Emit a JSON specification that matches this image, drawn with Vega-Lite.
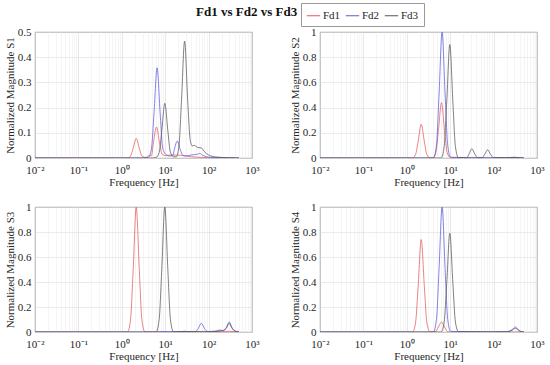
{
"$schema": "https://vega.github.io/schema/vega-lite/v6.json",
"padding": {"left": 3, "right": 2, "top": 2, "bottom": 2},
"background": "white",
"title": {"text": "Fd1 vs Fd2 vs Fd3", "font": "Liberation Serif", "fontSize": 13, "fontWeight": "bold", "color": "#111", "anchor": "start", "dx": 161, "dy": 22, "offset": 6, "frame": "group"},
"data": {"values": [
{"p":"S1","s":"Fd1","f":0.01,"v":0},{"p":"S1","s":"Fd1","f":1.36,"v":0},{"p":"S1","s":"Fd1","f":1.59,"v":0.008},{"p":"S1","s":"Fd1","f":1.83,"v":0.039},{"p":"S1","s":"Fd1","f":2.15,"v":0.078},{"p":"S1","s":"Fd1","f":2.53,"v":0.039},{"p":"S1","s":"Fd1","f":2.9,"v":0.008},{"p":"S1","s":"Fd1","f":3.6,"v":0.002},{"p":"S1","s":"Fd1","f":4.3,"v":0.01},{"p":"S1","s":"Fd1","f":4.8,"v":0.008},{"p":"S1","s":"Fd1","f":5.36,"v":0.061},{"p":"S1","s":"Fd1","f":6.3,"v":0.123},{"p":"S1","s":"Fd1","f":7.4,"v":0.061},{"p":"S1","s":"Fd1","f":8.5,"v":0.015},{"p":"S1","s":"Fd1","f":10,"v":0.01},{"p":"S1","s":"Fd1","f":15,"v":0.012},{"p":"S1","s":"Fd1","f":25,"v":0.01},{"p":"S1","s":"Fd1","f":40,"v":0.005},{"p":"S1","s":"Fd1","f":60,"v":0.003},{"p":"S1","s":"Fd1","f":100,"v":0.001},{"p":"S1","s":"Fd1","f":500,"v":0},
{"p":"S1","s":"Fd2","f":0.01,"v":0},{"p":"S1","s":"Fd2","f":3,"v":0},{"p":"S1","s":"Fd2","f":4.1,"v":0.003},{"p":"S1","s":"Fd2","f":4.82,"v":0.036},{"p":"S1","s":"Fd2","f":5.53,"v":0.179},{"p":"S1","s":"Fd2","f":6.5,"v":0.358},{"p":"S1","s":"Fd2","f":7.64,"v":0.179},{"p":"S1","s":"Fd2","f":8.77,"v":0.04},{"p":"S1","s":"Fd2","f":10.3,"v":0.015},{"p":"S1","s":"Fd2","f":12.5,"v":0.008},{"p":"S1","s":"Fd2","f":15,"v":0.01},{"p":"S1","s":"Fd2","f":16.2,"v":0.033},{"p":"S1","s":"Fd2","f":19,"v":0.067},{"p":"S1","s":"Fd2","f":22.3,"v":0.033},{"p":"S1","s":"Fd2","f":25.6,"v":0.01},{"p":"S1","s":"Fd2","f":30,"v":0.008},{"p":"S1","s":"Fd2","f":40,"v":0.012},{"p":"S1","s":"Fd2","f":55,"v":0.015},{"p":"S1","s":"Fd2","f":62,"v":0.018},{"p":"S1","s":"Fd2","f":75,"v":0.01},{"p":"S1","s":"Fd2","f":100,"v":0.003},{"p":"S1","s":"Fd2","f":200,"v":0.001},{"p":"S1","s":"Fd2","f":500,"v":0},
{"p":"S1","s":"Fd3","f":0.01,"v":0},{"p":"S1","s":"Fd3","f":5,"v":0},{"p":"S1","s":"Fd3","f":6.18,"v":0.002},{"p":"S1","s":"Fd3","f":7.26,"v":0.022},{"p":"S1","s":"Fd3","f":8.34,"v":0.108},{"p":"S1","s":"Fd3","f":9.8,"v":0.217},{"p":"S1","s":"Fd3","f":11.5,"v":0.108},{"p":"S1","s":"Fd3","f":13.2,"v":0.022},{"p":"S1","s":"Fd3","f":15.5,"v":0.005},{"p":"S1","s":"Fd3","f":18,"v":0.005},{"p":"S1","s":"Fd3","f":20.7,"v":0.046},{"p":"S1","s":"Fd3","f":23.8,"v":0.232},{"p":"S1","s":"Fd3","f":28,"v":0.464},{"p":"S1","s":"Fd3","f":32.9,"v":0.232},{"p":"S1","s":"Fd3","f":37.8,"v":0.07},{"p":"S1","s":"Fd3","f":42,"v":0.048},{"p":"S1","s":"Fd3","f":48,"v":0.05},{"p":"S1","s":"Fd3","f":55,"v":0.042},{"p":"S1","s":"Fd3","f":68,"v":0.04},{"p":"S1","s":"Fd3","f":80,"v":0.025},{"p":"S1","s":"Fd3","f":100,"v":0.012},{"p":"S1","s":"Fd3","f":150,"v":0.004},{"p":"S1","s":"Fd3","f":300,"v":0.001},{"p":"S1","s":"Fd3","f":500,"v":0},
{"p":"S2","s":"Fd1","f":0.01,"v":0},{"p":"S2","s":"Fd1","f":1.36,"v":0},{"p":"S2","s":"Fd1","f":1.59,"v":0.027},{"p":"S2","s":"Fd1","f":1.83,"v":0.134},{"p":"S2","s":"Fd1","f":2.15,"v":0.267},{"p":"S2","s":"Fd1","f":2.53,"v":0.134},{"p":"S2","s":"Fd1","f":2.9,"v":0.027},{"p":"S2","s":"Fd1","f":3.41,"v":0.002},{"p":"S2","s":"Fd1","f":3.98,"v":0.002},{"p":"S2","s":"Fd1","f":4.67,"v":0.044},{"p":"S2","s":"Fd1","f":5.36,"v":0.22},{"p":"S2","s":"Fd1","f":6.3,"v":0.44},{"p":"S2","s":"Fd1","f":7.4,"v":0.22},{"p":"S2","s":"Fd1","f":8.5,"v":0.044},{"p":"S2","s":"Fd1","f":10,"v":0.005},{"p":"S2","s":"Fd1","f":20,"v":0.003},{"p":"S2","s":"Fd1","f":100,"v":0.001},{"p":"S2","s":"Fd1","f":500,"v":0},
{"p":"S2","s":"Fd2","f":0.01,"v":0},{"p":"S2","s":"Fd2","f":4.1,"v":0},{"p":"S2","s":"Fd2","f":4.82,"v":0.1},{"p":"S2","s":"Fd2","f":5.53,"v":0.5},{"p":"S2","s":"Fd2","f":6.5,"v":1.0},{"p":"S2","s":"Fd2","f":7.64,"v":0.5},{"p":"S2","s":"Fd2","f":8.77,"v":0.1},{"p":"S2","s":"Fd2","f":10.3,"v":0.005},{"p":"S2","s":"Fd2","f":30,"v":0.003},{"p":"S2","s":"Fd2","f":100,"v":0.002},{"p":"S2","s":"Fd2","f":300,"v":0.005},{"p":"S2","s":"Fd2","f":500,"v":0},
{"p":"S2","s":"Fd3","f":0.01,"v":0},{"p":"S2","s":"Fd3","f":6.18,"v":0},{"p":"S2","s":"Fd3","f":7.26,"v":0.09},{"p":"S2","s":"Fd3","f":8.34,"v":0.45},{"p":"S2","s":"Fd3","f":9.8,"v":0.9},{"p":"S2","s":"Fd3","f":11.5,"v":0.45},{"p":"S2","s":"Fd3","f":13.2,"v":0.09},{"p":"S2","s":"Fd3","f":15.5,"v":0.003},{"p":"S2","s":"Fd3","f":24,"v":0.002},{"p":"S2","s":"Fd3","f":27,"v":0.03},{"p":"S2","s":"Fd3","f":31.6,"v":0.074},{"p":"S2","s":"Fd3","f":37,"v":0.03},{"p":"S2","s":"Fd3","f":43,"v":0.003},{"p":"S2","s":"Fd3","f":55,"v":0.003},{"p":"S2","s":"Fd3","f":62,"v":0.027},{"p":"S2","s":"Fd3","f":73,"v":0.065},{"p":"S2","s":"Fd3","f":86,"v":0.026},{"p":"S2","s":"Fd3","f":100,"v":0.003},{"p":"S2","s":"Fd3","f":200,"v":0.002},{"p":"S2","s":"Fd3","f":300,"v":0.005},{"p":"S2","s":"Fd3","f":500,"v":0},
{"p":"S3","s":"Fd1","f":0.01,"v":0},{"p":"S3","s":"Fd1","f":1.36,"v":0},{"p":"S3","s":"Fd1","f":1.59,"v":0.1},{"p":"S3","s":"Fd1","f":1.83,"v":0.5},{"p":"S3","s":"Fd1","f":2.15,"v":1.0},{"p":"S3","s":"Fd1","f":2.53,"v":0.5},{"p":"S3","s":"Fd1","f":2.9,"v":0.1},{"p":"S3","s":"Fd1","f":3.41,"v":0.002},{"p":"S3","s":"Fd1","f":10,"v":0.001},{"p":"S3","s":"Fd1","f":300,"v":0.005},{"p":"S3","s":"Fd1","f":500,"v":0},
{"p":"S3","s":"Fd2","f":0.01,"v":0},{"p":"S3","s":"Fd2","f":6,"v":0},{"p":"S3","s":"Fd2","f":9,"v":0.004},{"p":"S3","s":"Fd2","f":12,"v":0.003},{"p":"S3","s":"Fd2","f":20,"v":0.002},{"p":"S3","s":"Fd2","f":28,"v":0.006},{"p":"S3","s":"Fd2","f":35,"v":0.002},{"p":"S3","s":"Fd2","f":50,"v":0.003},{"p":"S3","s":"Fd2","f":58,"v":0.03},{"p":"S3","s":"Fd2","f":68,"v":0.07},{"p":"S3","s":"Fd2","f":80,"v":0.03},{"p":"S3","s":"Fd2","f":95,"v":0.004},{"p":"S3","s":"Fd2","f":150,"v":0.008},{"p":"S3","s":"Fd2","f":180,"v":0.016},{"p":"S3","s":"Fd2","f":220,"v":0.01},{"p":"S3","s":"Fd2","f":255,"v":0.035},{"p":"S3","s":"Fd2","f":300,"v":0.08},{"p":"S3","s":"Fd2","f":340,"v":0.04},{"p":"S3","s":"Fd2","f":400,"v":0.01},{"p":"S3","s":"Fd2","f":500,"v":0},
{"p":"S3","s":"Fd3","f":0.01,"v":0},{"p":"S3","s":"Fd3","f":6.18,"v":0},{"p":"S3","s":"Fd3","f":7.26,"v":0.1},{"p":"S3","s":"Fd3","f":8.34,"v":0.5},{"p":"S3","s":"Fd3","f":9.8,"v":1.0},{"p":"S3","s":"Fd3","f":11.5,"v":0.5},{"p":"S3","s":"Fd3","f":13.2,"v":0.1},{"p":"S3","s":"Fd3","f":15.5,"v":0.003},{"p":"S3","s":"Fd3","f":28,"v":0.004},{"p":"S3","s":"Fd3","f":100,"v":0.002},{"p":"S3","s":"Fd3","f":200,"v":0.01},{"p":"S3","s":"Fd3","f":255,"v":0.03},{"p":"S3","s":"Fd3","f":300,"v":0.07},{"p":"S3","s":"Fd3","f":340,"v":0.035},{"p":"S3","s":"Fd3","f":400,"v":0.008},{"p":"S3","s":"Fd3","f":500,"v":0},
{"p":"S4","s":"Fd1","f":0.01,"v":0},{"p":"S4","s":"Fd1","f":1.36,"v":0},{"p":"S4","s":"Fd1","f":1.59,"v":0.074},{"p":"S4","s":"Fd1","f":1.83,"v":0.37},{"p":"S4","s":"Fd1","f":2.15,"v":0.74},{"p":"S4","s":"Fd1","f":2.53,"v":0.37},{"p":"S4","s":"Fd1","f":2.9,"v":0.074},{"p":"S4","s":"Fd1","f":3.41,"v":0.002},{"p":"S4","s":"Fd1","f":4.5,"v":0.003},{"p":"S4","s":"Fd1","f":5.36,"v":0.04},{"p":"S4","s":"Fd1","f":6.3,"v":0.08},{"p":"S4","s":"Fd1","f":7.4,"v":0.04},{"p":"S4","s":"Fd1","f":8.5,"v":0.005},{"p":"S4","s":"Fd1","f":10,"v":0.001},{"p":"S4","s":"Fd1","f":500,"v":0},
{"p":"S4","s":"Fd2","f":0.01,"v":0},{"p":"S4","s":"Fd2","f":4.1,"v":0},{"p":"S4","s":"Fd2","f":4.82,"v":0.1},{"p":"S4","s":"Fd2","f":5.53,"v":0.5},{"p":"S4","s":"Fd2","f":6.5,"v":1.0},{"p":"S4","s":"Fd2","f":7.64,"v":0.5},{"p":"S4","s":"Fd2","f":8.77,"v":0.1},{"p":"S4","s":"Fd2","f":10.3,"v":0.005},{"p":"S4","s":"Fd2","f":100,"v":0.001},{"p":"S4","s":"Fd2","f":200,"v":0.003},{"p":"S4","s":"Fd2","f":270,"v":0.02},{"p":"S4","s":"Fd2","f":316,"v":0.04},{"p":"S4","s":"Fd2","f":370,"v":0.02},{"p":"S4","s":"Fd2","f":430,"v":0.003},{"p":"S4","s":"Fd2","f":500,"v":0},
{"p":"S4","s":"Fd3","f":0.01,"v":0},{"p":"S4","s":"Fd3","f":6.18,"v":0},{"p":"S4","s":"Fd3","f":7.26,"v":0.079},{"p":"S4","s":"Fd3","f":8.34,"v":0.395},{"p":"S4","s":"Fd3","f":9.8,"v":0.79},{"p":"S4","s":"Fd3","f":11.5,"v":0.395},{"p":"S4","s":"Fd3","f":13.2,"v":0.079},{"p":"S4","s":"Fd3","f":15.5,"v":0.003},{"p":"S4","s":"Fd3","f":100,"v":0.001},{"p":"S4","s":"Fd3","f":200,"v":0.002},{"p":"S4","s":"Fd3","f":270,"v":0.015},{"p":"S4","s":"Fd3","f":316,"v":0.03},{"p":"S4","s":"Fd3","f":370,"v":0.015},{"p":"S4","s":"Fd3","f":430,"v":0.002},{"p":"S4","s":"Fd3","f":500,"v":0}
]},
"columns": 2,
"spacing": {"row": 49, "column": 68},
"bounds": "flush",
"resolve": {"scale": {"x": "independent", "y": "independent", "color": "shared"}},
"concat": [
{"width": 217, "height": 126, "transform": [{"filter": "datum.p == 'S1'"}],
 "mark": {"type": "line", "interpolate": "monotone", "strokeWidth": 0.75, "clip": true},
 "encoding": {
  "x": {"field": "f", "type": "quantitative", "scale": {"type": "log", "domain": [0.01, 1000]}, "axis": {"title": "Frequency [Hz]", "labelPadding": 6, "titlePadding": 1, "values": [0.01,0.02,0.03,0.04,0.05,0.06,0.07,0.08,0.09,0.1,0.2,0.3,0.4,0.5,0.6,0.7,0.8,0.9,1,2,3,4,5,6,7,8,9,10,20,30,40,50,60,70,80,90,100,200,300,400,500,600,700,800,900,1000], "labelExpr": "abs(log(datum.value)/LN10 - round(log(datum.value)/LN10)) < 0.001 ? '10' + ['⁻²','⁻¹','⁰','¹','²','³'][round(log(datum.value)/LN10)+2] : ''", "gridColor": {"condition": {"test": "abs(log(datum.value)/LN10 - round(log(datum.value)/LN10)) < 0.001", "value": "#d9d9d9"}, "value": "#eeeeee"}}},
  "y": {"field": "v", "type": "quantitative", "scale": {"domain": [0, 0.5]}, "axis": {"title": "Normalized Magnitude S1", "values": [0,0.1,0.2,0.3,0.4,0.5], "format": "~g"}},
  "color": {"field": "s", "type": "nominal", "scale": {"domain": ["Fd1","Fd2","Fd3"], "range": ["#e35a5a","#5a5ae3","#555555"]}}
 }},
{"width": 217, "height": 126, "transform": [{"filter": "datum.p == 'S2'"}],
 "mark": {"type": "line", "interpolate": "monotone", "strokeWidth": 0.75, "clip": true},
 "encoding": {
  "x": {"field": "f", "type": "quantitative", "scale": {"type": "log", "domain": [0.01, 1000]}, "axis": {"title": "Frequency [Hz]", "labelPadding": 6, "titlePadding": 1, "values": [0.01,0.02,0.03,0.04,0.05,0.06,0.07,0.08,0.09,0.1,0.2,0.3,0.4,0.5,0.6,0.7,0.8,0.9,1,2,3,4,5,6,7,8,9,10,20,30,40,50,60,70,80,90,100,200,300,400,500,600,700,800,900,1000], "labelExpr": "abs(log(datum.value)/LN10 - round(log(datum.value)/LN10)) < 0.001 ? '10' + ['⁻²','⁻¹','⁰','¹','²','³'][round(log(datum.value)/LN10)+2] : ''", "gridColor": {"condition": {"test": "abs(log(datum.value)/LN10 - round(log(datum.value)/LN10)) < 0.001", "value": "#d9d9d9"}, "value": "#eeeeee"}}},
  "y": {"field": "v", "type": "quantitative", "scale": {"domain": [0, 1]}, "axis": {"title": "Normalized Magnitude S2", "values": [0,0.2,0.4,0.6,0.8,1], "format": "~g"}},
  "color": {"field": "s", "type": "nominal", "scale": {"domain": ["Fd1","Fd2","Fd3"], "range": ["#e35a5a","#5a5ae3","#555555"]}}
 }},
{"width": 217, "height": 125, "transform": [{"filter": "datum.p == 'S3'"}],
 "mark": {"type": "line", "interpolate": "monotone", "strokeWidth": 0.75, "clip": true},
 "encoding": {
  "x": {"field": "f", "type": "quantitative", "scale": {"type": "log", "domain": [0.01, 1000]}, "axis": {"title": "Frequency [Hz]", "labelPadding": 6, "titlePadding": 1, "values": [0.01,0.02,0.03,0.04,0.05,0.06,0.07,0.08,0.09,0.1,0.2,0.3,0.4,0.5,0.6,0.7,0.8,0.9,1,2,3,4,5,6,7,8,9,10,20,30,40,50,60,70,80,90,100,200,300,400,500,600,700,800,900,1000], "labelExpr": "abs(log(datum.value)/LN10 - round(log(datum.value)/LN10)) < 0.001 ? '10' + ['⁻²','⁻¹','⁰','¹','²','³'][round(log(datum.value)/LN10)+2] : ''", "gridColor": {"condition": {"test": "abs(log(datum.value)/LN10 - round(log(datum.value)/LN10)) < 0.001", "value": "#d9d9d9"}, "value": "#eeeeee"}}},
  "y": {"field": "v", "type": "quantitative", "scale": {"domain": [0, 1]}, "axis": {"title": "Normalized Magnitude S3", "values": [0,0.2,0.4,0.6,0.8,1], "format": "~g"}},
  "color": {"field": "s", "type": "nominal", "scale": {"domain": ["Fd1","Fd2","Fd3"], "range": ["#e35a5a","#5a5ae3","#555555"]}}
 }},
{"width": 217, "height": 125, "transform": [{"filter": "datum.p == 'S4'"}],
 "mark": {"type": "line", "interpolate": "monotone", "strokeWidth": 0.75, "clip": true},
 "encoding": {
  "x": {"field": "f", "type": "quantitative", "scale": {"type": "log", "domain": [0.01, 1000]}, "axis": {"title": "Frequency [Hz]", "labelPadding": 6, "titlePadding": 1, "values": [0.01,0.02,0.03,0.04,0.05,0.06,0.07,0.08,0.09,0.1,0.2,0.3,0.4,0.5,0.6,0.7,0.8,0.9,1,2,3,4,5,6,7,8,9,10,20,30,40,50,60,70,80,90,100,200,300,400,500,600,700,800,900,1000], "labelExpr": "abs(log(datum.value)/LN10 - round(log(datum.value)/LN10)) < 0.001 ? '10' + ['⁻²','⁻¹','⁰','¹','²','³'][round(log(datum.value)/LN10)+2] : ''", "gridColor": {"condition": {"test": "abs(log(datum.value)/LN10 - round(log(datum.value)/LN10)) < 0.001", "value": "#d9d9d9"}, "value": "#eeeeee"}}},
  "y": {"field": "v", "type": "quantitative", "scale": {"domain": [0, 1]}, "axis": {"title": "Normalized Magnitude S4", "values": [0,0.2,0.4,0.6,0.8,1], "format": "~g"}},
  "color": {"field": "s", "type": "nominal", "scale": {"domain": ["Fd1","Fd2","Fd3"], "range": ["#e35a5a","#5a5ae3","#555555"]}}
 }}
],
"config": {
 "font": "Liberation Serif",
 "view": {"stroke": "#777777", "strokeWidth": 0.8},
 "axis": {"labelFont": "Liberation Serif", "titleFont": "Liberation Serif", "labelFontSize": 11, "titleFontSize": 11, "titleFontWeight": "normal", "labelColor": "#262626", "titleColor": "#262626", "gridColor": "#dddddd", "gridWidth": 0.6, "domain": false, "ticks": false, "labelPadding": 4, "titlePadding": 2, "labelFlush": false, "labelOverlap": false},
 "legend": {"orient": "none", "legendX": 266, "legendY": -29, "direction": "horizontal", "title": null, "strokeColor": "#999999", "fillColor": "white", "padding": 5, "symbolType": "stroke", "symbolSize": 180, "symbolStrokeWidth": 1, "labelFont": "Liberation Serif", "labelFontSize": 11, "labelColor": "#262626", "columnPadding": 2, "labelOffset": 2}
}
}
